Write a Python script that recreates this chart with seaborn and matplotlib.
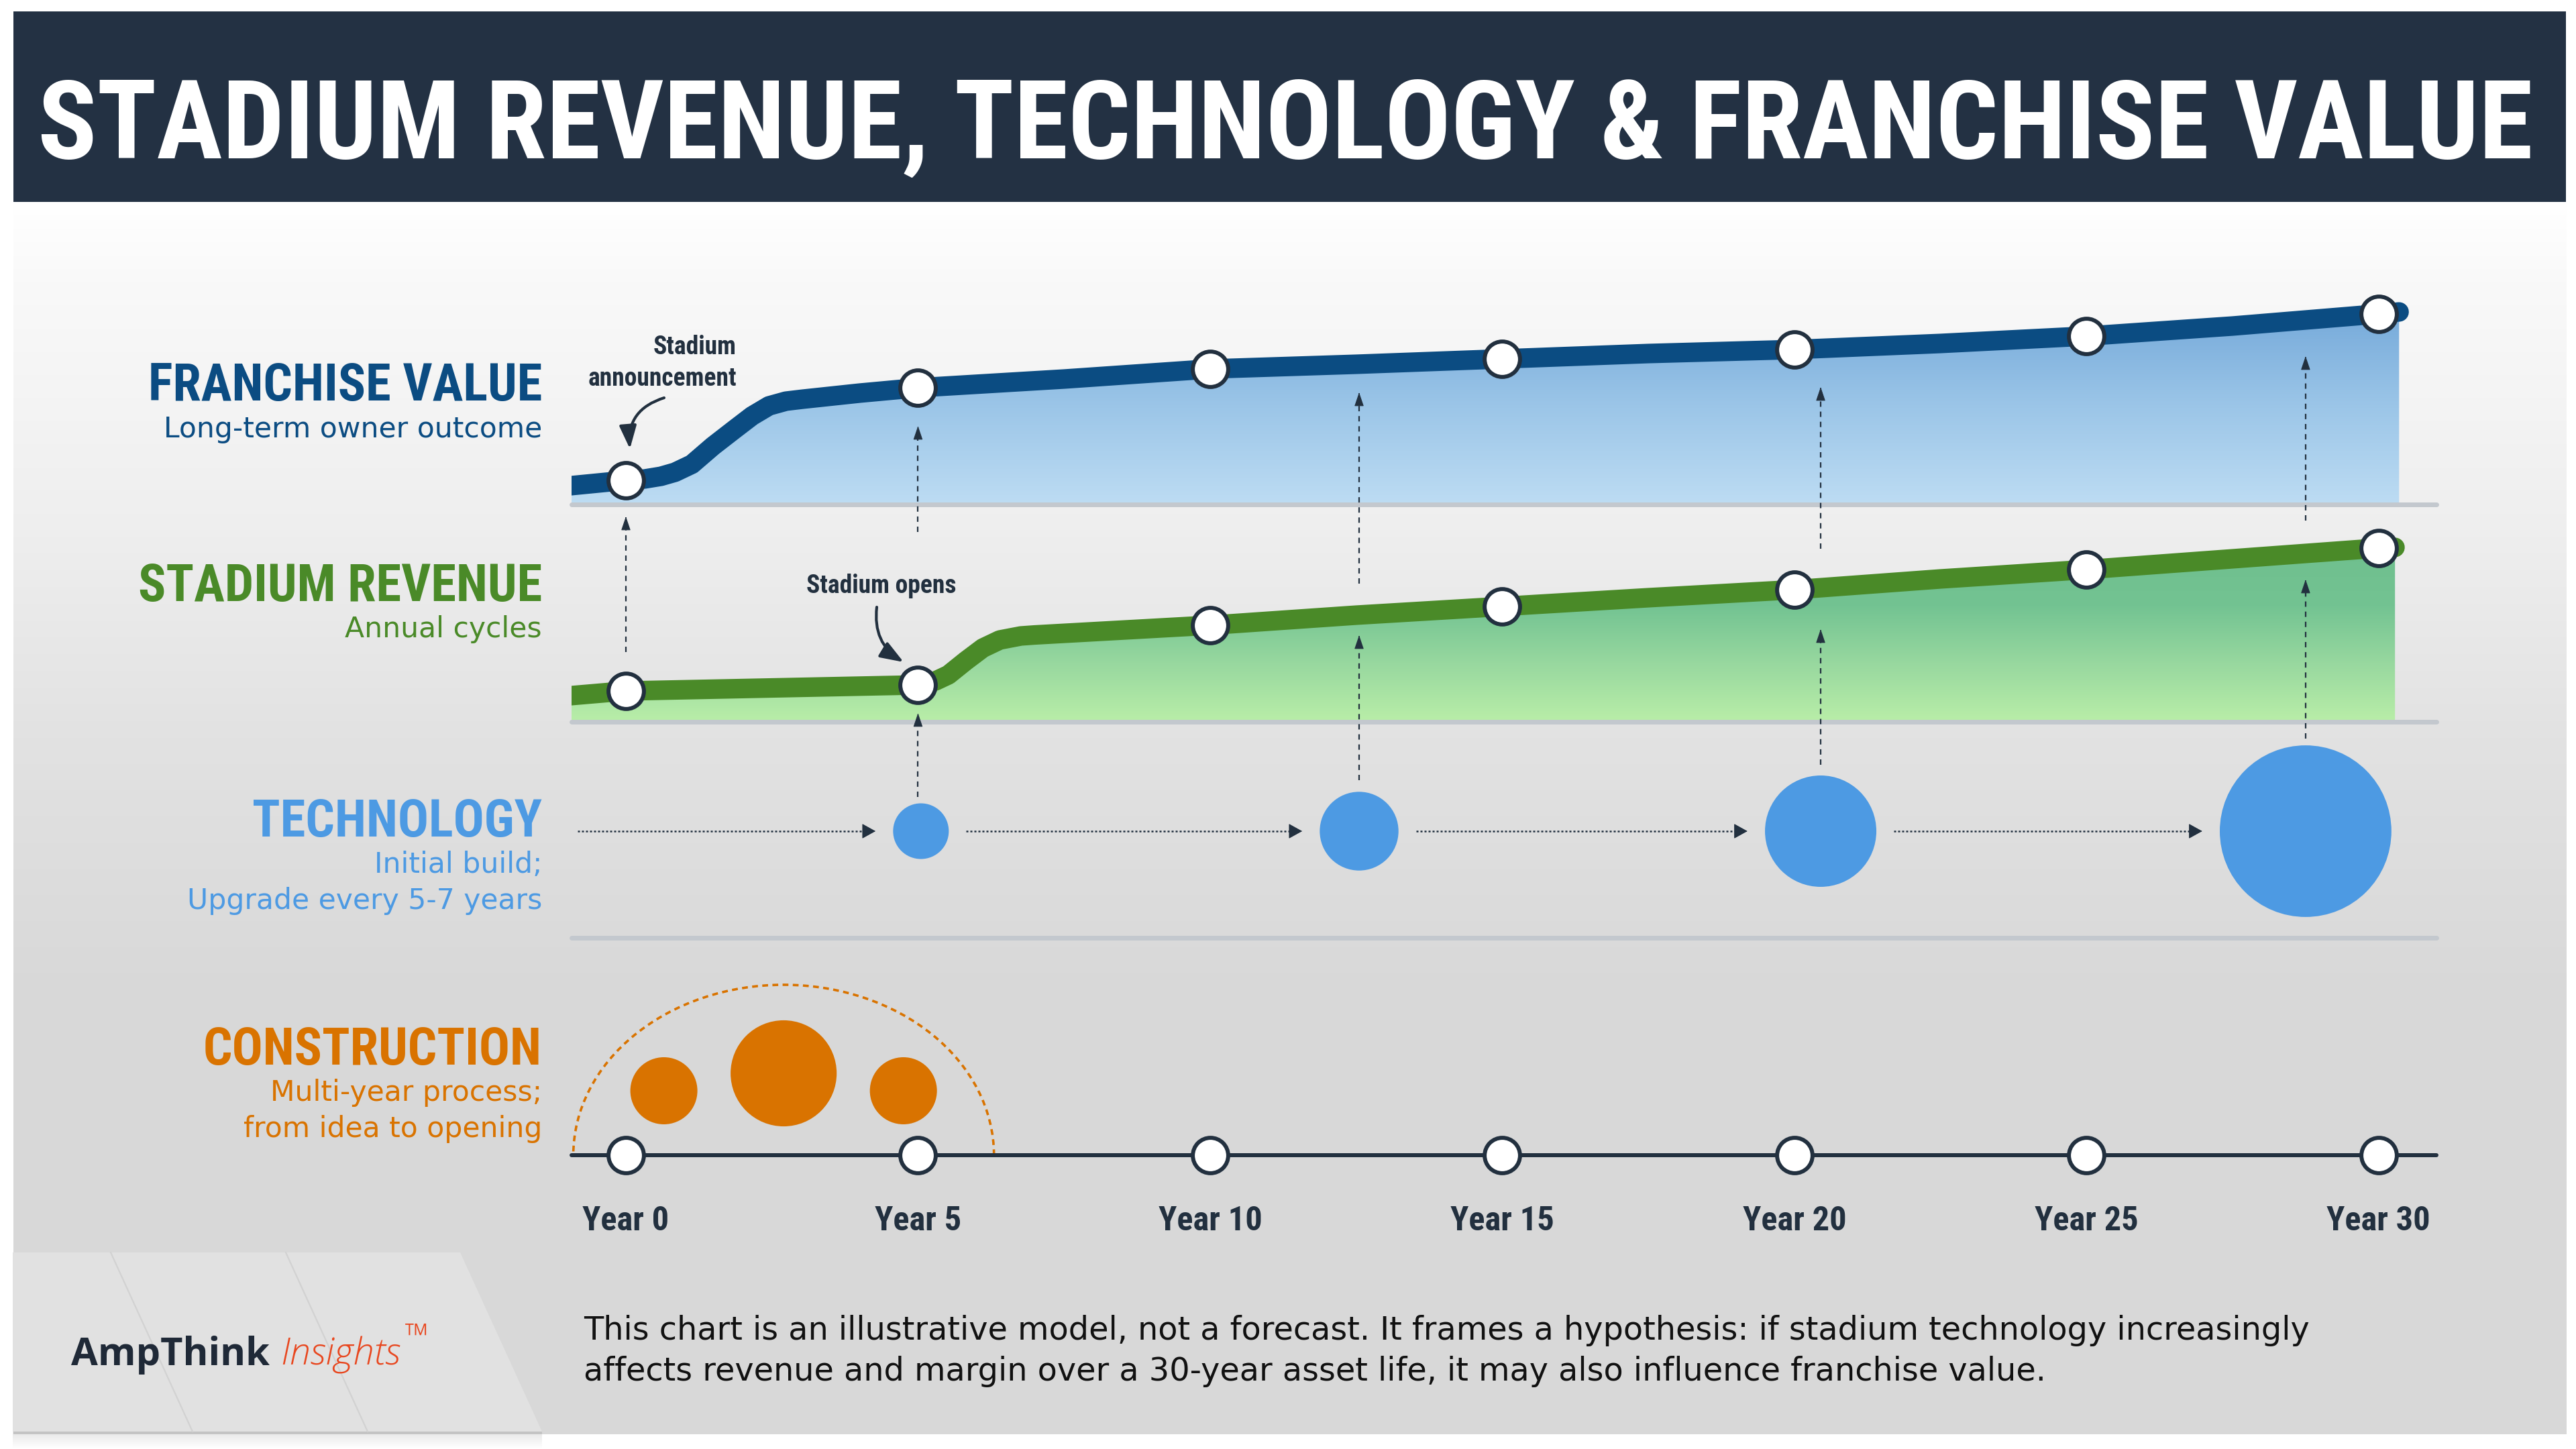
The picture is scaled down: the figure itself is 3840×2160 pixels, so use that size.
import os
import re
import numpy as np
import matplotlib
matplotlib.use("Agg")
import matplotlib.pyplot as plt
import seaborn as sns
from matplotlib import font_manager as fm
from matplotlib.textpath import TextPath
from matplotlib.patches import Rectangle, Polygon, Arc
from matplotlib.colors import LinearSegmentedColormap, to_rgb

# ----------------------------------------------------------------- data
milestone_years = [0, 5, 10, 15, 20, 25, 30]
year_labels = ["Year 0", "Year 5", "Year 10", "Year 15", "Year 20", "Year 25", "Year 30"]

# Franchise value (illustrative index)
fv_years = [-0.94, 0, 0.32, 0.6, 0.84, 1.13, 1.49, 1.86, 2.16, 2.45, 2.74, 3.03, 4.0, 5,
            7.5, 10, 12.5, 15, 17.5, 20, 22.5, 25, 27.5, 30, 30.35]
fv_values = [2.8, 3.6, 3.8, 4.2, 4.8, 6.0, 8.7, 11.2, 13.2, 14.7, 15.4, 15.7, 16.6, 17.4,
             18.7, 20.2, 20.9, 21.7, 22.5, 23.1, 24.0, 25.1, 26.6, 28.4, 28.7]

# Stadium revenue (illustrative index)
sr_years = [-0.94, 0, 5, 5.30, 5.52, 5.82, 6.11, 6.40, 6.76, 7.0, 10, 12.5, 15,
            17.5, 20, 22.5, 25, 27.5, 30, 30.28]
sr_values = [3.9, 4.6, 5.5, 6.1, 7.0, 9.1, 11.0, 12.2, 12.8, 12.95, 14.4, 15.9, 17.2,
             18.5, 19.7, 21.3, 22.7, 24.3, 25.9, 26.0]

# Technology builds / upgrades (relative investment)
tech_years = [5.05, 12.55, 20.45, 28.75]
tech_spend = [1.0, 2.0, 4.0, 9.5]

# Construction phases (relative effort)
con_years = [0.65, 2.7, 4.75]
con_spend = [1.0, 2.5, 1.0]
con_level = [9.6, 12.2, 9.6]

# ----------------------------------------------------------------- style
sns.set_theme(style="white")
plt.rcParams["font.family"] = ["DejaVu Sans"]

DPI = 100
W, H = 3840, 2160
DARK = "#22303f"
FV_LINE = "#0b4c82"
SR_LINE = "#4a8a28"
TECH = "#4d9ae3"
CON = "#d97300"
DIV = "#c3c8ce"
BANNER = "#233143"


def find_file(names):
    lut = {}
    for f in fm.fontManager.ttflist:
        lut.setdefault(os.path.basename(f.fname).lower(), f.fname)
    for n in names:
        if n.lower() in lut:
            return lut[n.lower()]
    for f in fm.fontManager.ttflist:
        b = os.path.basename(f.fname).lower()
        if re.search(r"(condensed|narrow|cond).*bold", b) and "italic" not in b and "mono" not in b:
            return f.fname
    return None


cond_file = find_file(["NotoSans-ExtraCondensedBold.ttf", "RobotoCondensed-Bold.ttf",
                       "NotoSans-CondensedBold.ttf", "DejaVuSansCondensed-Bold.ttf",
                       "LiberationSansNarrow-Bold.ttf", "OpenSans-CondBold.ttf"])
if cond_file:
    fp_cond = fm.FontProperties(fname=cond_file)
else:
    fp_cond = fm.FontProperties(family="DejaVu Sans", weight="bold", stretch="condensed")
fp_sub = fm.FontProperties(family=["DejaVu Sans"], weight="normal")
fp_logo_b = fm.FontProperties(family=["Open Sans", "DejaVu Sans"], weight="bold")
fp_logo_i = fm.FontProperties(family=["Open Sans", "DejaVu Sans"], weight="light", style="italic")


def fit(s, fp, width_px=None, cap_px=None):
    """font size (pt) so that the ink width / cap height match the targets"""
    w = TextPath((0, 0), s, size=100, prop=fp).get_extents().width / 100
    cap = TextPath((0, 0), "H", size=100, prop=fp).get_extents().height / 100
    c = []
    if width_px:
        c.append(width_px / w)
    if cap_px:
        c.append(cap_px / cap)
    fpx = min(c)
    out = fp.copy()
    out.set_size(fpx * 72 / DPI)
    return out


fig = plt.figure(figsize=(W / DPI, H / DPI), dpi=DPI, facecolor="white")

# ----------------------------------------------------------------- background layer (pixel coords)
bg = fig.add_axes([0, 0, 1, 1], zorder=0)
stops_y = [301, 420, 800, 1100, 1450, 2138]
stops_c = ["#ffffff", "#f9f9f9", "#eeeeee", "#e2e2e2", "#d9d9d9", "#d8d8d8"]
yy = np.arange(301, 2138)
rgb = np.stack([np.interp(yy, stops_y, [to_rgb(c)[i] for c in stops_c]) for i in range(3)], axis=-1)[:, None, :]
bg.imshow(rgb, extent=[20, 3826, 2138, 301], origin="upper", aspect="auto", zorder=0, interpolation="bilinear")
bg.add_patch(Rectangle((20, 17), 3805, 284, color=BANNER, zorder=1, lw=0))

# logo box + shadow
sh = np.zeros((26, 1, 4))
sh[..., 3] = np.linspace(0.10, 0.0, 26)[:, None]
bg.imshow(sh, extent=[19, 808, 2160, 2134], origin="upper", aspect="auto", zorder=1)
bg.add_patch(Polygon([(19, 1867), (686, 1867), (808, 2134), (19, 2134)], closed=True,
                     color="#e1e1e1", lw=0, zorder=2))
for x0 in (165, 426):
    bg.plot([x0, x0 + 122], [1867, 2134], color="#d2d2d2", lw=1.6, zorder=3)
bg.set_xlim(0, W)
bg.set_ylim(H, 0)
bg.axis("off")

# title
title = "STADIUM REVENUE, TECHNOLOGY & FRANCHISE VALUE"
bg.text(1916, 236, title, fontproperties=fit(title, fp_cond, 3710, 147), color="white",
        ha="center", va="baseline", zorder=5)

# left row labels
fp_head = fit("FRANCHISE VALUE", fp_cond, 581, 72)
fp_subt = fit("Long-term owner outcome", fp_sub, 561, 31)
rows = [
    ("FRANCHISE VALUE", 597, FV_LINE, ["Long-term owner outcome"], 652),
    ("STADIUM REVENUE", 896, SR_LINE, ["Annual cycles"], 950),
    ("TECHNOLOGY", 1247, TECH, ["Initial build;", "Upgrade every 5-7 years"], 1301),
    ("CONSTRUCTION", 1587, CON, ["Multi-year process;", "from idea to opening"], 1641),
]
for head, yb, col, subs, ys in rows:
    bg.text(808, yb, head, fontproperties=fp_head, color=col, ha="right", va="baseline", zorder=5)
    for i, s in enumerate(subs):
        bg.text(808, ys + 54 * i, s, fontproperties=fp_subt, color=col, ha="right", va="baseline", zorder=5)

# annotations
fp_ann = fit("announcement", fp_cond, 220, 30)
bg.text(1098, 528, "Stadium", fontproperties=fp_ann, color=DARK, ha="right", va="baseline", zorder=5)
bg.text(1098, 575, "announcement", fontproperties=fp_ann, color=DARK, ha="right", va="baseline", zorder=5)
bg.text(1314, 884, "Stadium opens", fontproperties=fp_ann, color=DARK, ha="center", va="baseline", zorder=5)
curve_kw = dict(arrowstyle="-|>,head_length=0.7,head_width=0.26", lw=3.0, color=DARK,
                mutation_scale=30, shrinkA=0, shrinkB=0)
bg.annotate("", xy=(939, 669), xytext=(990, 593),
            arrowprops=dict(connectionstyle="arc3,rad=0.4", **curve_kw), zorder=6)
bg.annotate("", xy=(1347, 987), xytext=(1307, 905),
            arrowprops=dict(connectionstyle="arc3,rad=0.32", **curve_kw), zorder=6)

# footer
line1 = "This chart is an illustrative model, not a forecast. It frames a hypothesis: if stadium technology increasingly"
line2 = "affects revenue and margin over a 30-year asset life, it may also influence franchise value."
fp_foot = fit(line1, fp_sub, 2573, 36)
bg.text(870, 1997, line1, fontproperties=fp_foot, color="#111111", ha="left", va="baseline", zorder=5)
bg.text(870, 2058, line2, fontproperties=fp_foot, color="#111111", ha="left", va="baseline", zorder=5)
bg.text(106, 2035, "AmpThink", fontproperties=fit("AmpThink", fp_logo_b, 296, 45), color="#1f2937",
        ha="left", va="baseline", zorder=5)
bg.text(418, 2035, "Insights", fontproperties=fit("Insights", fp_logo_i, 176, 45), color="#e8471f",
        ha="left", va="baseline", zorder=5)
bg.text(600, 2008, "\u2122", fontproperties=fit("\u2122", fp_logo_i, 31, None), color="#e8471f",
        ha="left", va="baseline", zorder=5)

# ----------------------------------------------------------------- chart panels (years on x)
X0, X1 = 852, 3632
XLIM = (-0.93, 30.99)


def panel(top, bottom, z=1):
    ax = fig.add_axes([X0 / W, 1 - bottom / H, (X1 - X0) / W, (bottom - top) / H], zorder=z)
    ax.patch.set_visible(False)
    return ax


def clean(ax, ylim):
    ax.set_xlim(*XLIM)
    ax.set_ylim(*ylim)
    for s in ax.spines.values():
        s.set_visible(False)
    ax.set_xticks([])
    ax.set_yticks([])
    ax.set_xlabel("")
    ax.set_ylabel("")


def gradient_fill(ax, xs, ys, colors):
    coll = ax.fill_between(xs, 0, ys, color="none", lw=0)
    cmap = LinearSegmentedColormap.from_list("g", colors)
    im = ax.imshow(np.linspace(0, 1, 256).reshape(-1, 1), cmap=cmap, origin="lower",
                   extent=[min(xs), max(xs), 0, max(ys)], aspect="auto", zorder=1,
                   interpolation="bilinear")
    im.set_clip_path(coll.get_paths()[0], transform=ax.transData)


MS = 1444      # marker area (pt^2)
MEW = 4.3


def curve_panel(top, bottom, xs, ys, line_col, grad_cols):
    ax = panel(top, bottom)
    gradient_fill(ax, xs, ys, grad_cols)
    sns.lineplot(x=xs, y=ys, ax=ax, color=line_col, linewidth=21, estimator=None, sort=False, zorder=3)
    for ln in ax.lines:
        ln.set_solid_capstyle("round")
        ln.set_solid_joinstyle("round")
    mv = [v for x, v in zip(xs, ys) if x in milestone_years]
    sns.scatterplot(x=milestone_years, y=mv, ax=ax, s=MS, color="white", edgecolor=DARK,
                    linewidth=MEW, zorder=5, legend=False, clip_on=False)
    ax.axhline(0, color=DIV, lw=5, zorder=2, clip_on=False)
    clean(ax, (0, (bottom - top) / 10))
    return ax


ax_fv = curve_panel(380, 752, fv_years, fv_values, FV_LINE, ["#bddcf3", "#9cc6e8", "#76aada"])
ax_sr = curve_panel(760, 1076, sr_years, sr_values, SR_LINE, ["#b9eea8", "#98d89f", "#73c392", "#6fbf8e"])

# technology row
ax_t = panel(1080, 1398)
k_t = (83 * 72 / DPI) ** 2
sns.scatterplot(x=tech_years, y=[0.5] * len(tech_years), size=tech_spend,
                sizes=(k_t * min(tech_spend), k_t * max(tech_spend)), color=TECH,
                edgecolor="none", legend=False, ax=ax_t, zorder=3)
ax_t.axhline(0, color=DIV, lw=5, zorder=2, clip_on=False)
PX_PER_YR = (X1 - X0) / (XLIM[1] - XLIM[0])
t_rad = [83 * np.sqrt(v) / 2 / PX_PER_YR for v in tech_spend]
starts = [XLIM[0] + 0.1] + [x + r + 0.3 for x, r in zip(tech_years[:-1], t_rad[:-1])]
ends = [x - r - 0.3 for x, r in zip(tech_years, t_rad)]
head_t = 18 / PX_PER_YR
for a, b in zip(starts, ends):
    ax_t.plot([a, b - head_t * 0.8], [0.5, 0.5], color=DARK, lw=1.8, linestyle=(0, (1.2, 1.2)), zorder=2)
    ax_t.annotate("", xy=(b, 0.5), xytext=(b - 0.05, 0.5),
                  arrowprops=dict(arrowstyle="-|>,head_length=0.65,head_width=0.36", mutation_scale=20,
                                  color=DARK, lw=0.8, shrinkA=0, shrinkB=0), zorder=4)
clean(ax_t, (0, 1))

# construction row
ax_c = panel(1420, 1722)
k_c = (100 * 72 / DPI) ** 2
sns.scatterplot(x=con_years, y=con_level, size=con_spend,
                sizes=(k_c * min(con_spend), k_c * max(con_spend)), color=CON,
                edgecolor="none", legend=False, ax=ax_c, zorder=3)
ax_c.add_patch(Arc((con_years[1], 0), width=7.2, height=50.8, theta1=0, theta2=180,
                   color=CON, lw=2.6, linestyle=(0, (2.4, 1.8)), zorder=2))
ax_c.axhline(0, color=DARK, lw=4.3, zorder=2, clip_on=False)
sns.scatterplot(x=milestone_years, y=[0] * len(milestone_years), ax=ax_c, s=MS, color="white",
                edgecolor=DARK, linewidth=MEW, zorder=5, legend=False, clip_on=False)
clean(ax_c, (0, 30.2))
fp_year = fit("Year 10", fp_cond, 152, 50)
ax_c.set_xticks(milestone_years)
ax_c.set_xticklabels(year_labels, fontproperties=fp_year, color=DARK)
ax_c.tick_params(axis="x", length=0, pad=54)

# ----------------------------------------------------------------- overlay: vertical dashed arrows
ov = fig.add_axes([X0 / W, 0, (X1 - X0) / W, 1], zorder=4)
ov.set_xlim(*XLIM)
ov.set_ylim(H, 0)
ov.axis("off")
v_arrows = [(0, 972, 770), (5, 793, 635), (5, 1188, 1063),
            (tech_years[1], 870, 585), (tech_years[1], 1163, 947),
            (tech_years[2], 818, 577), (tech_years[2], 1140, 938),
            (tech_years[3], 776, 531), (tech_years[3], 1101, 864)]
for x, tail, tip in v_arrows:
    ov.plot([x, x], [tail, tip + 14], color=DARK, lw=1.6, linestyle=(0, (3.6, 3.2)))
    ov.annotate("", xy=(x, tip), xytext=(x, tip + 3),
                arrowprops=dict(arrowstyle="-|>,head_length=0.65,head_width=0.22", mutation_scale=20,
                                color=DARK, lw=0.8, shrinkA=0, shrinkB=0))

fig.savefig("out.png", dpi=DPI, facecolor="white")
